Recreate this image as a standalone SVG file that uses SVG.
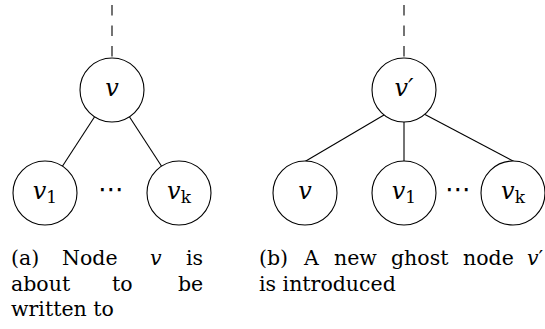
<svg xmlns="http://www.w3.org/2000/svg" width="545" height="329" viewBox="0 0 545 329">
<style>
.node circle{fill:#fff;stroke:#000;stroke-width:1.1}
.lab{font-style:italic;font-size:24px;text-anchor:middle;fill:#000}
.sub{font-style:normal;font-size:17px}
.edge{stroke:#000;stroke-width:1.1;fill:none}
.dash{stroke:#000;stroke-width:1.1;stroke-dasharray:10.5 10;fill:none}
.cap{font-size:20.5px;fill:#000}
.dots{font-size:26px;fill:#000;text-anchor:middle}
</style>
<g id="connectors">
<line class="dash" x1="112" y1="5" x2="112" y2="58"/>
<line class="edge" x1="94.6" y1="116.8" x2="62.4" y2="166.2"/>
<line class="edge" x1="129.4" y1="116.8" x2="161.6" y2="166.2"/>
<line class="dash" x1="404" y1="5" x2="404" y2="58"/>
<line class="edge" x1="384" y1="115" x2="305" y2="161.5"/>
<line class="edge" x1="404" y1="122" x2="404" y2="161"/>
<line class="edge" x1="425" y1="114.5" x2="514" y2="161.5"/>
</g>
<g font-family="'DejaVu Serif', serif">
<g id="a-v" class="node"><circle cx="112" cy="90" r="32"/><text class="lab" x="112" y="96">v</text></g>
<g id="a-v1" class="node"><circle cx="45" cy="193" r="32"/><text class="lab" x="45" y="199">v<tspan class="sub" dy="4">1</tspan></text></g>
<g id="a-vk" class="node"><circle cx="179" cy="193" r="32"/><text class="lab" x="179" y="199">v<tspan class="sub" font-style="italic" dy="4">k</tspan></text></g>
<g id="b-vp" class="node"><circle cx="404" cy="90" r="32"/><text class="lab" x="404" y="96" fill="#a6a6a6">v′</text></g>
<g id="b-v" class="node"><circle cx="305" cy="193" r="32"/><text class="lab" x="305" y="199">v</text></g>
<g id="b-v1" class="node"><circle cx="404" cy="193" r="32"/><text class="lab" x="404" y="199">v<tspan class="sub" dy="4">1</tspan></text></g>
<g id="b-vk" class="node"><circle cx="513" cy="193" r="32"/><text class="lab" x="513" y="199">v<tspan class="sub" font-style="italic" dy="4">k</tspan></text></g>
</g>
<g font-family="'DejaVu Sans', sans-serif">
<text class="dots" x="111" y="198">⋯</text>
<text class="dots" x="458" y="198">⋯</text>
</g>
<g id="caption-a" class="cap" font-family="'DejaVu Serif', serif">
<text x="11" y="265">(a)</text>
<text x="62" y="265">Node</text>
<text x="150" y="265" font-style="italic">v</text>
<text x="186" y="265">is</text>
<text x="11" y="290.5">about</text>
<text x="112" y="290.5">to</text>
<text x="178" y="290.5">be</text>
<text x="11" y="316">written to</text>
</g>
<g id="caption-b" class="cap" font-family="'DejaVu Serif', serif">
<text x="259" y="265">(b)</text>
<text x="304" y="265">A</text>
<text x="334" y="265">new</text>
<text x="391" y="265">ghost</text>
<text x="463" y="265">node</text>
<text x="527" y="265" font-style="italic">v<tspan font-style="normal">′</tspan></text>
<text x="259" y="290.5">is introduced</text>
</g>
</svg>
